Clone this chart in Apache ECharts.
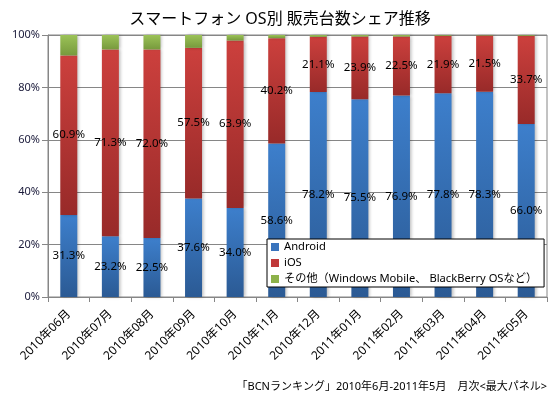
<!DOCTYPE html>
<html>
<head>
<meta charset="utf-8">
<script src="https://cdn.jsdelivr.net/npm/echarts@6/dist/echarts.min.js"></script>
<style>
  html, body { margin: 0; padding: 0; background: #fff; }
  #main { width: 560px; height: 398px; }
</style>
</head>
<body>
<div id="main"></div>
<script>
const months = ['2010年06月', '2010年07月', '2010年08月', '2010年09月', '2010年10月', '2010年11月',
  '2010年12月', '2011年01月', '2011年02月', '2011年03月', '2011年04月', '2011年05月'];
const android = [31.3, 23.2, 22.5, 37.6, 34.0, 58.6, 78.2, 75.5, 76.9, 77.8, 78.3, 66.0];
const ios = [60.9, 71.3, 72.0, 57.5, 63.9, 40.2, 21.1, 23.9, 22.5, 21.9, 21.5, 33.7];
const others = [7.8, 5.5, 5.5, 4.9, 2.1, 1.2, 0.7, 0.6, 0.6, 0.3, 0.2, 0.3];
const yTicks = [0, 20, 40, 60, 80, 100];

const FONT = '"Noto Sans", "Noto Sans CJK JP", sans-serif';

function grad(top, bottom) {
  return new echarts.graphic.LinearGradient(0, 0, 0, 1, [
    { offset: 0, color: top },
    { offset: 1, color: bottom }
  ]);
}

const chart = echarts.init(document.getElementById('main'));

const labelOpt = {
  show: true,
  position: 'inside',
  color: '#000',
  fontFamily: FONT,
  fontSize: 11.5,
  formatter: p => p.value.toFixed(1) + '%'
};

const barShadow = {
  shadowColor: 'rgba(0,0,0,0.25)',
  shadowBlur: 3,
  shadowOffsetX: 2
};

chart.setOption({
  animation: false,
  title: [
    {
      text: 'スマートフォン OS別 販売台数シェア推移',
      left: 'center',
      top: 6,
      textStyle: { fontFamily: FONT, fontSize: 16, fontWeight: 'normal', color: '#000' }
    },
    {
      text: '「BCNランキング」2010年6月-2011年5月　月次<最大パネル>',
      right: 8,
      top: 376,
      textStyle: { fontFamily: FONT, fontSize: 11, fontWeight: 'normal', color: '#000' }
    }
  ],
  grid: {
    left: 48, right: 13, top: 35, bottom: 101,
    show: true, borderColor: '#868686', borderWidth: 1
  },
  legend: {
    orient: 'vertical',
    left: 267,
    top: 239,
    backgroundColor: '#fff',
    borderColor: '#000',
    borderWidth: 1,
    padding: [2, 7, 2, 4],
    itemWidth: 8,
    itemHeight: 8,
    itemGap: 4,
    icon: 'rect',
    textStyle: { fontFamily: FONT, fontSize: 11.2, lineHeight: 12, color: '#000' },
    data: [
      { name: 'Android', itemStyle: { color: '#3a74bd' } },
      { name: 'iOS', itemStyle: { color: '#c0393a' } },
      { name: 'その他（Windows Mobile、 BlackBerry OSなど）', itemStyle: { color: '#8db24a' } }
    ]
  },
  xAxis: {
    type: 'category',
    data: months,
    axisLine: { lineStyle: { color: '#868686' } },
    axisTick: { show: true, length: 5, lineStyle: { color: '#868686' } },
    axisLabel: { rotate: 45, margin: 15, fontFamily: FONT, fontSize: 12, color: '#000' }
  },
  yAxis: {
    type: 'value',
    min: 0,
    max: 100,
    interval: 20,
    axisLine: { show: true, lineStyle: { color: '#868686' } },
    axisTick: { show: true, length: 6, lineStyle: { color: '#868686' } },
    splitLine: { lineStyle: { color: '#868686' } },
    axisLabel: {
      fontFamily: FONT, fontSize: 11, color: '#1a1a3a', margin: 8,
      formatter: v => yTicks.includes(v) ? v + '%' : ''
    }
  },
  series: [
    {
      name: 'Android',
      type: 'bar',
      stack: 'os',
      barWidth: 17,
      data: android,
      itemStyle: Object.assign({ color: grad('#3d7fcc', '#2b5a94') }, barShadow),
      label: labelOpt
    },
    {
      name: 'iOS',
      type: 'bar',
      stack: 'os',
      data: ios,
      itemStyle: Object.assign({ color: grad('#cc403d', '#982a29') }, barShadow),
      label: labelOpt
    },
    {
      name: 'その他（Windows Mobile、 BlackBerry OSなど）',
      type: 'bar',
      stack: 'os',
      data: others,
      itemStyle: Object.assign({ color: grad('#9bc257', '#779a3d') }, barShadow)
    }
  ]
});
</script>
</body>
</html>
